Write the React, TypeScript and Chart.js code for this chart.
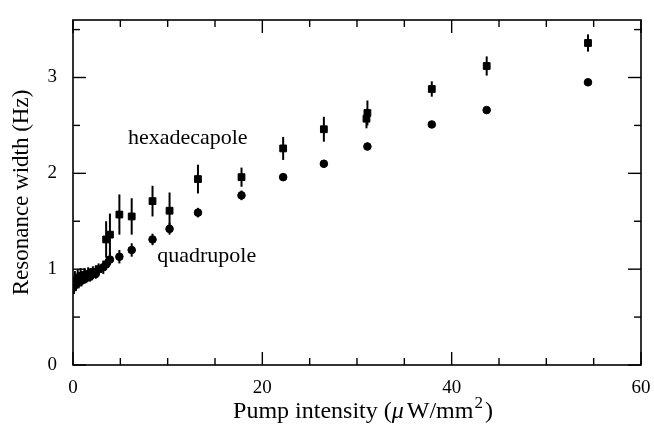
import React, { useEffect, useRef } from "react";
import { Chart, registerables } from "chart.js";

Chart.register(...registerables);

// ---- Data ----
const hexX = [0.2, 0.5, 0.8, 1.2, 1.6, 2.1, 2.7, 3.5, 3.9, 4.9, 6.2, 8.4, 10.2, 13.2, 17.8, 22.2, 26.5, 31.0, 31.1, 37.9, 43.7, 54.4];
const hexY = [0.88, 0.91, 0.93, 0.94, 0.95, 0.97, 1.0, 1.31, 1.36, 1.57, 1.55, 1.71, 1.61, 1.94, 1.96, 2.26, 2.46, 2.57, 2.63, 2.88, 3.12, 3.36];
const hexErr = [0.1, 0.09, 0.08, 0.07, 0.07, 0.06, 0.06, 0.19, 0.22, 0.21, 0.19, 0.16, 0.19, 0.15, 0.1, 0.12, 0.13, 0.1, 0.13, 0.08, 0.1, 0.09];

const quadX = [0.1, 0.3, 0.6, 0.9, 1.3, 1.8, 2.4, 3.2, 3.5, 3.9, 4.9, 6.2, 8.4, 10.2, 13.2, 17.8, 22.2, 26.5, 31.1, 37.9, 43.7, 54.4];
const quadY = [0.82, 0.84, 0.86, 0.88, 0.9, 0.92, 0.95, 1.02, 1.05, 1.1, 1.13, 1.2, 1.31, 1.42, 1.59, 1.77, 1.96, 2.1, 2.28, 2.51, 2.66, 2.95];
const quadErr = [0.08, 0.07, 0.06, 0.06, 0.05, 0.05, 0.05, 0.07, 0.06, 0.06, 0.07, 0.07, 0.06, 0.06, 0.05, 0.05, 0.04, 0.04, 0.04, 0.03, 0.03, 0.03];

const xTicks = [0, 20, 40, 60];
const yTicks = [0, 1, 2, 3];
const xMinorStep = 5;
const yMinorStep = 0.5;
const xRange = [0, 60];
const yRange = [0, 3.6];

const yTitle = "Resonance width (Hz)";
const xTitleParts = ["Pump intensity (", "\u03bc", "W/mm", "2", ")"];
const annLabels = ["hexadecapole", "quadrupole"];
const annX = [5.8, 8.9];
const annY = [2.31, 1.07];

const FONT = '"Liberation Serif", "Times New Roman", serif';

export default function App() {
  const ref = useRef<HTMLCanvasElement>(null);

  useEffect(() => {
    if (!ref.current) return;

    const errorBars = {
      id: "errorBars",
      beforeDatasetsDraw(chart: any) {
        const { ctx, chartArea, scales } = chart;
        const xs = scales.x, ys = scales.y;
        ctx.save();
        ctx.beginPath();
        ctx.rect(chartArea.left, chartArea.top, chartArea.right - chartArea.left, chartArea.bottom - chartArea.top);
        ctx.clip();
        ctx.strokeStyle = "#000";
        ctx.lineWidth = 2;
        const sets = [
          [hexX, hexY, hexErr],
          [quadX, quadY, quadErr],
        ];
        for (const [xa, ya, ea] of sets) {
          for (let i = 0; i < xa.length; i++) {
            const px = xs.getPixelForValue(xa[i]);
            ctx.beginPath();
            ctx.moveTo(px, ys.getPixelForValue(ya[i] - ea[i]));
            ctx.lineTo(px, ys.getPixelForValue(ya[i] + ea[i]));
            ctx.stroke();
          }
        }
        ctx.restore();
      },
    };

    const frame = {
      id: "frame",
      afterDraw(chart: any) {
        const { ctx, chartArea, scales } = chart;
        const { left, right, top, bottom } = chartArea;
        const xs = scales.x, ys = scales.y;
        ctx.save();
        ctx.strokeStyle = "#000";
        ctx.lineWidth = 1.6;
        ctx.strokeRect(left, top, right - left, bottom - top);
        ctx.lineWidth = 1.4;
        const line = (a: number, b: number, c: number, d: number) => {
          ctx.beginPath();
          ctx.moveTo(a, b);
          ctx.lineTo(c, d);
          ctx.stroke();
        };
        for (let v = xRange[0]; v <= xRange[1] + 1e-9; v += xMinorStep) {
          const px = xs.getPixelForValue(v);
          const len = xTicks.includes(v) ? 13 : 7;
          line(px, bottom, px, bottom - len);
          line(px, top, px, top + len);
        }
        for (let k = 0; k * yMinorStep <= yRange[1] + 1e-9; k++) {
          const v = k * yMinorStep;
          const py = ys.getPixelForValue(v);
          const len = yTicks.includes(v) ? 13 : 7;
          line(left, py, left + len, py);
          line(right, py, right - len, py);
        }

        // annotations
        ctx.fillStyle = "#000";
        ctx.textBaseline = "alphabetic";
        ctx.textAlign = "left";
        ctx.font = `22px ${FONT}`;
        for (let i = 0; i < annLabels.length; i++) {
          ctx.fillText(annLabels[i], xs.getPixelForValue(annX[i]), ys.getPixelForValue(annY[i]));
        }

        // x title with italic mu and superscript
        const normal = `24px ${FONT}`;
        const italic = `italic 24px ${FONT}`;
        const small = `17px ${FONT}`;
        const fonts = [normal, italic, normal, small, normal];
        const rise = [0, 0, 0, 10, 0];
        const gap = [0, 3, 1, 2, 0];
        const widths = xTitleParts.map((t, i) => {
          ctx.font = fonts[i];
          return ctx.measureText(t).width + gap[i];
        });
        const total = widths.reduce((a, b) => a + b, 0);
        let cx = (left + right) / 2 - total / 2 + 6;
        const baseY = 418;
        for (let i = 0; i < xTitleParts.length; i++) {
          ctx.font = fonts[i];
          ctx.fillText(xTitleParts[i], cx, baseY - rise[i]);
          cx += widths[i];
        }
        ctx.restore();
      },
    };

    const chart = new Chart(ref.current, {
      type: "scatter",
      data: {
        datasets: [
          {
            label: "hexadecapole",
            data: hexX.map((x, i) => ({ x, y: hexY[i] })),
            pointStyle: "rect",
            pointRadius: 4.8,
            pointBorderWidth: 1,
            backgroundColor: "#000",
            borderColor: "#000",
            clip: 0,
          },
          {
            label: "quadrupole",
            data: quadX.map((x, i) => ({ x, y: quadY[i] })),
            pointStyle: "circle",
            pointRadius: 3.8,
            pointBorderWidth: 1,
            backgroundColor: "#000",
            borderColor: "#000",
            clip: 0,
          },
        ],
      },
      options: {
        responsive: false,
        animation: false,
        layout: { padding: { top: 20, right: 13, left: 0, bottom: 0 } },
        plugins: {
          legend: { display: false },
          tooltip: { enabled: false },
        },
        scales: {
          x: {
            type: "linear",
            min: xRange[0],
            max: xRange[1],
            grid: { display: false, drawTicks: false },
            border: { display: false },
            ticks: {
              stepSize: 20,
              color: "#000",
              padding: 12,
              font: { family: FONT, size: 19 },
              maxRotation: 0,
            },
            afterFit: (s: any) => {
              s.height = 70;
              s.paddingLeft = 0;
              s.paddingRight = 0;
            },
          },
          y: {
            type: "linear",
            min: yRange[0],
            max: yRange[1],
            grid: { display: false, drawTicks: false },
            border: { display: false },
            ticks: {
              stepSize: 1,
              includeBounds: false,
              color: "#000",
              padding: 16,
              font: { family: FONT, size: 19 },
              callback: (v: any) => (yTicks.includes(Number(v)) ? String(v) : ""),
            },
            title: {
              display: true,
              text: yTitle,
              color: "#000",
              font: { family: FONT, size: 23 },
              padding: { top: 8, bottom: 0 },
            },
            afterFit: (s: any) => {
              s.width = 73;
              s.paddingTop = 0;
              s.paddingBottom = 0;
            },
          },
        },
      },
      plugins: [errorBars, frame],
    } as any);

    return () => chart.destroy();
  }, []);

  return (
    <div style={{ position: "fixed", left: 0, top: 0, width: 654, height: 435, background: "#fff" }}>
      <canvas ref={ref} width={654} height={435} style={{ display: "block" }} />
    </div>
  );
}
